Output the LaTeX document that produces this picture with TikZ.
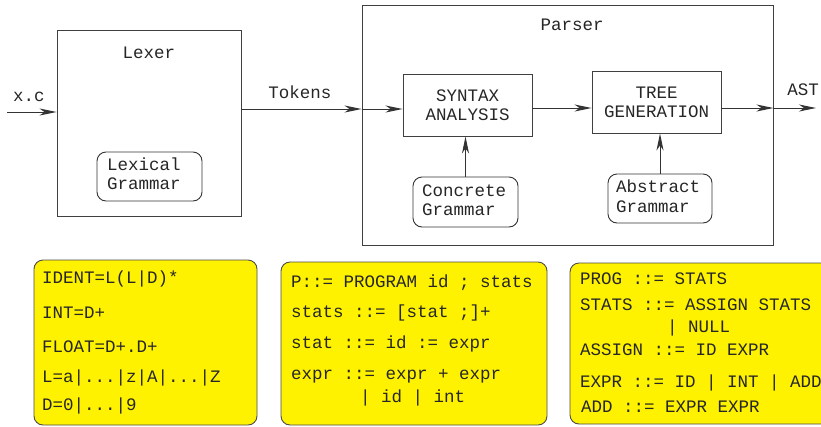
\documentclass[tikz,border=0pt]{standalone}
\usepackage{fontspec}
\newfontfamily\codefont{Liberation Mono}
\usetikzlibrary{arrows.meta}
\tikzset{
  txt/.style={font=\codefont\fontsize{17.5}{19}\selectfont, inner sep=0pt, text=black!85},
  lbl/.style={txt, anchor=base},
  lft/.style={txt, anchor=base west},
  stage/.style={draw=black!75, line width=0.9pt, rectangle, inner sep=0pt},
  gram/.style={draw=black!80, line width=0.9pt, rectangle, rounded corners=9pt, inner sep=0pt},
  rules/.style={draw=black!70, fill=yellow, line width=0.9pt, rectangle, rounded corners=9pt, inner sep=0pt},
  flow/.style={draw=black!80, line width=1pt, -{Stealth[length=17pt,width=7pt,inset=5pt]}},
}
\begin{document}
\begin{tikzpicture}[x=1pt,y=-1pt]
\useasboundingbox (0,0) rectangle (821,426);
\clip (0,0) rectangle (821,426);

% --- lexer stage ---
\node[stage, minimum width=184pt, minimum height=186pt] (lexer) at (149,123) {};
\node[lbl] (lexerlbl) at (149,58) {Lexer};
\node[gram, minimum width=105pt, minimum height=49pt] (lexgram) at (149.5,176.5) {};
\node[lft] (lexgramA) at (107,170) {Lexical};
\node[lft] (lexgramB) at (107,189) {Grammar};

% --- parser stage ---
\node[stage, minimum width=411pt, minimum height=240pt] (parser) at (567.5,125) {};
\node[lbl] (parserlbl) at (572,30) {Parser};

\node[stage, minimum width=129pt, minimum height=62pt] (syntax) at (467.5,105) {};
\node[lbl] (syntaxA) at (467.5,101) {SYNTAX};
\node[lbl] (syntaxB) at (467.5,120) {ANALYSIS};

\node[stage, minimum width=129pt, minimum height=62pt] (tree) at (656.5,102) {};
\node[lbl] (treeA) at (656.5,98) {TREE};
\node[lbl] (treeB) at (656.5,117) {GENERATION};

\node[gram, minimum width=105pt, minimum height=50pt] (concrete) at (465.5,202) {};
\node[lft] (concreteA) at (422,196) {Concrete};
\node[lft] (concreteB) at (422,215) {Grammar};

\node[gram, minimum width=104pt, minimum height=49pt] (abstract) at (660,198.5) {};
\node[lft] (abstractA) at (616,192) {Abstract};
\node[lft] (abstractB) at (616,212) {Grammar};

% --- edge labels ---
\node[lbl] (xclbl) at (29,101) {x.c};
\node[lbl] (toklbl) at (300,98) {Tokens};
\node[lbl] (astlbl) at (803,95) {AST};

% --- connectors ---
\coordinate (xin) at (7,112);
\coordinate (tok) at (300,109);
\coordinate (mid) at (560,108);
\coordinate (astend) at (816,108);

\draw[flow] (xin) -- (xin -| lexer.west);
\draw[flow] (tok -| lexer.east) -- (tok -| parser.west);
\draw[flow] (tok -| parser.west) -- (tok -| syntax.west);
\draw[flow] (mid -| syntax.east) -- (mid -| tree.west);
\draw[flow] (mid -| tree.east) -- (mid -| parser.east);
\draw[flow] (mid -| parser.east) -- (astend);
\draw[flow] (concrete.north) -- (concrete.north |- syntax.south);
\draw[flow] (abstract.north) -- (abstract.north |- tree.south);

% --- lexical rules ---
\node[rules, minimum width=223pt, minimum height=165pt] (lexrules) at (145.5,342.5) {};
\node[lft] (lr1) at (42,283) {IDENT=L(L|D)*};
\node[lft] (lr2) at (42,318) {INT=D+};
\node[lft] (lr3) at (42,352) {FLOAT=D+.D+};
\node[lft] (lr4) at (42,382) {L=a|...|z|A|...|Z};
\node[lft] (lr5) at (42,410) {D=0|...|9};

% --- concrete grammar rules ---
\node[rules, minimum width=266pt, minimum height=163pt] (cfgrules) at (414,343.5) {};
\node[lft] (cr1) at (291,287) {P::= PROGRAM id ; stats};
\node[lft] (cr2) at (291,317) {stats ::= [stat ;]+};
\node[lft] (cr3) at (291,348) {stat ::= id := expr};
\node[lft] (cr4) at (291,379) {expr ::= expr + expr};
\node[lft] (cr5) at (360,402) {| id | int};

% --- abstract grammar rules ---
\node[rules, minimum width=270pt, minimum height=161pt] (astrules) at (705,343.5) {};
\node[lft] (ar1) at (580,284) {PROG ::= STATS};
\node[lft] (ar2) at (580,310) {STATS ::= ASSIGN STATS};
\node[lft] (ar3) at (667,332) {| NULL};
\node[lft] (ar4) at (580,355) {ASSIGN ::= ID EXPR};
\node[lft] (ar5) at (580,387) {EXPR ::= ID | INT | ADD};
\node[lft] (ar6) at (581,412) {ADD ::= EXPR EXPR};
\end{tikzpicture}
\end{document}
